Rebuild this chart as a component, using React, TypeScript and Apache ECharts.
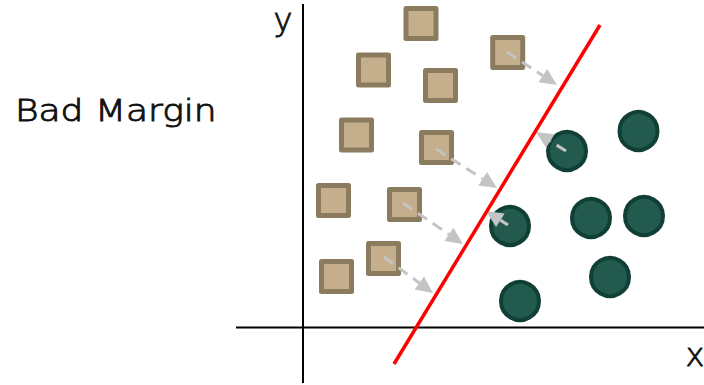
import React, { useEffect, useRef } from "react";
import * as echarts from "echarts";

// Diagram coordinates (pixel-like units of the original picture)
const squareX = [421, 373.5, 440.5, 507.7, 356.5, 436.5, 333.5, 404.5, 383.5, 336.5];
const squareY = [23.5, 70, 85.5, 52.5, 135, 147.5, 200.5, 204.5, 258.5, 276.5];

const circleX = [567, 638.5, 510, 591, 644, 610, 520];
const circleY = [151, 131, 226, 218, 216, 277, 301];

// separating line (bad margin)
const marginLineX = [394, 600];
const marginLineY = [364, 25];

// coordinate axes
const xAxisLineX = [236, 704];
const xAxisLineY = [327.5, 327.5];
const yAxisLineX = [303, 303];
const yAxisLineY = [4, 383];

// arrows: from point to line
const arrowFromX = [507, 436, 403, 384, 566, 508];
const arrowFromY = [52, 149, 203, 257, 151, 225];
const arrowToX = [557, 497, 463, 433, 536, 486];
const arrowToY = [85, 188, 244, 293, 132, 211];

const titleText = "Bad Margin";
const xLabel = "x";
const yLabel = "y";

export default function App() {
  const ref = useRef<HTMLDivElement>(null);
  useEffect(() => {
    if (!ref.current) return;
    const chart = echarts.init(ref.current, undefined, { renderer: "svg" });
    const squares = squareX.map((x, i) => [x, squareY[i]]);
    const circles = circleX.map((x, i) => [x, circleY[i]]);
    const arrows = arrowFromX.map((x, i) => [x, arrowFromY[i], arrowToX[i], arrowToY[i]]);
    const toPts = (xs: number[], ys: number[]) => xs.map((x, i) => [x, ys[i]]);

    const headLen = 17;
    const headHalf = 8;
    const gray = "#c4c4c4";
    const lightFont = "'DejaVu Sans ExtraLight', 'DejaVu Sans'";

    chart.setOption({
      animation: false,
      grid: { left: 0, right: 0, top: 0, bottom: 0, containLabel: false },
      xAxis: { type: "value", min: 0, max: 704, show: false },
      yAxis: { type: "value", min: 0, max: 385, inverse: true, show: false },
      graphic: [
        {
          type: "text",
          x: 15,
          y: 111,
          scaleX: 1.2,
          style: {
            text: titleText,
            x: 0,
            y: 0,
            fill: "#111",
            stroke: "#111",
            lineWidth: 0.9,
            font: "200 30px " + lightFont,
            verticalAlign: "middle",
            align: "left",
          },
        },
        {
          type: "text",
          x: 283,
          y: 20,
          style: {
            text: yLabel,
            fill: "#111",
            stroke: "#111",
            lineWidth: 0.9,
            font: "200 32px " + lightFont,
            verticalAlign: "middle",
            align: "center",
          },
        },
        {
          type: "text",
          x: 695,
          y: 355,
          style: {
            text: xLabel,
            fill: "#111",
            stroke: "#111",
            lineWidth: 0.9,
            font: "200 32px " + lightFont,
            verticalAlign: "middle",
            align: "center",
          },
        },
      ],
      series: [
        {
          type: "line",
          data: toPts(xAxisLineX, xAxisLineY),
          symbol: "none",
          lineStyle: { color: "#000", width: 2 },
          z: 1,
        },
        {
          type: "line",
          data: toPts(yAxisLineX, yAxisLineY),
          symbol: "none",
          lineStyle: { color: "#000", width: 2 },
          z: 1,
        },
        {
          type: "scatter",
          data: squares,
          symbol: "rect",
          symbolSize: 30,
          itemStyle: {
            color: "#c4ae8c",
            borderColor: "#8b7c60",
            borderWidth: 5,
            borderJoin: "round",
            opacity: 1,
          },
          z: 2,
        },
        {
          type: "scatter",
          data: circles,
          symbol: "circle",
          symbolSize: 38,
          itemStyle: {
            color: "#225a4e",
            borderColor: "#103f36",
            borderWidth: 4,
            opacity: 1,
          },
          z: 2,
        },
        {
          type: "custom",
          data: arrows,
          encode: { x: [0, 2], y: [1, 3] },
          z: 3,
          renderItem: (params: any, api: any) => {
            const p1 = api.coord([api.value(0), api.value(1)]);
            const p2 = api.coord([api.value(2), api.value(3)]);
            const dx = p2[0] - p1[0];
            const dy = p2[1] - p1[1];
            const len = Math.sqrt(dx * dx + dy * dy);
            const ux = dx / len;
            const uy = dy / len;
            const bx = p2[0] - ux * headLen;
            const by = p2[1] - uy * headLen;
            const px = -uy * headHalf;
            const py = ux * headHalf;
            return {
              type: "group",
              children: [
                {
                  type: "line",
                  shape: { x1: p1[0], y1: p1[1], x2: bx, y2: by },
                  style: { stroke: gray, lineWidth: 3, lineDash: [11, 7] },
                },
                {
                  type: "polygon",
                  shape: {
                    points: [
                      [p2[0], p2[1]],
                      [bx + px, by + py],
                      [bx - px, by - py],
                    ],
                  },
                  style: { fill: gray },
                },
              ],
            };
          },
        },
        {
          type: "line",
          data: toPts(marginLineX, marginLineY),
          symbol: "none",
          lineStyle: { color: "#ff0000", width: 3.5 },
          z: 4,
        },
      ],
    });
    return () => chart.dispose();
  }, []);
  return (
    <div
      ref={ref}
      style={{ position: "absolute", left: 0, top: 0, width: 704, height: 385, background: "#fff" }}
    />
  );
}
